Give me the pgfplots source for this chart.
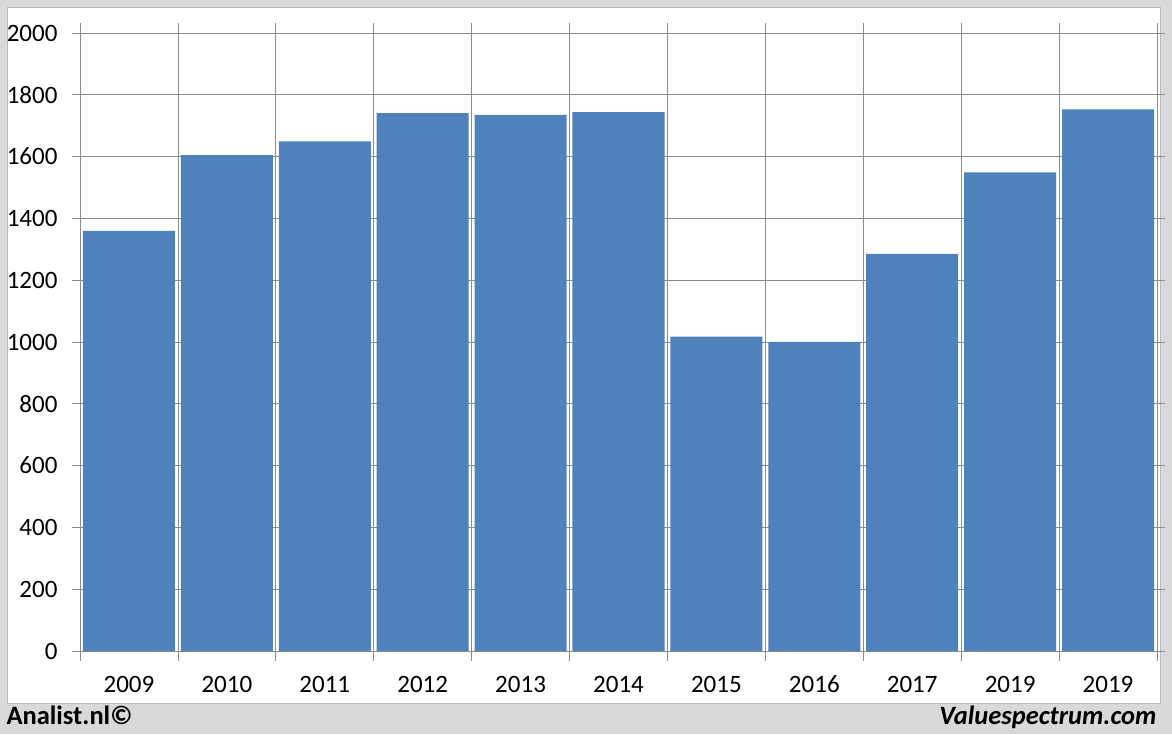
\documentclass[border=0pt]{standalone}
\usepackage{pgfplots}
\pgfplotsset{compat=1.18}
\usepackage{fontspec}
\setmainfont{Carlito}
\definecolor{barblue}{HTML}{4F81BD}
\definecolor{framegray}{HTML}{D9D9D9}
\definecolor{gridgray}{HTML}{8C8C8C}
\begin{document}
\begin{tikzpicture}[x=1pt,y=1pt]
  % outer frame and white panel
  \fill[framegray] (0,0) rectangle (1172,734);
  \fill[white] (7,31) rectangle (1160,727);
  \draw[gridgray!60,line width=0.8pt] (7,31) rectangle (1160,727);
  \begin{axis}[
      at={(80pt,83pt)}, anchor=south west,
      scale only axis,
      width=1077pt, height=618pt,
      xmin=-0.5, xmax=10.5,
      ymin=0, ymax=2000,
      ytick={0,200,...,2000},
      xtick={0,...,10},
      xticklabels={2009,2010,2011,2012,2013,2014,2015,2016,2017,2019,2019},
      minor xtick={-0.5,0.5,...,10.5},
      major x tick style={draw=none},
      minor tick length=10pt,
      major tick length=8pt,
      tick align=outside,
      tick style={gridgray, line width=0.8pt},
      xmajorgrids=false, xminorgrids=true, ymajorgrids=true,
      grid style={gridgray, line width=0.8pt},
      axis line style={gridgray, line width=0.8pt},
      /pgf/number format/assume math mode=true,
      /pgf/number format/1000 sep={},
      ticklabel style={font=\fontsize{25}{30}\selectfont},
      yticklabel style={xshift=-11pt},
      xticklabel style={anchor=base, yshift=-33pt},
    ]
    \addplot[ybar, bar width=0.94, fill=barblue, draw=none] coordinates {
      (0,1360) (1,1605) (2,1649) (3,1741) (4,1735) (5,1744)
      (6,1017) (7,1000) (8,1285) (9,1549) (10,1753)
    };
  \end{axis}
  \node[anchor=base west, font=\fontsize{26.5}{30}\selectfont\bfseries] at (3,10) {Analist.nl©};
  \node[anchor=base east, font=\fontsize{26.5}{30}\selectfont\bfseries\itshape] at (1160,10) {Valuespectrum.com};
\end{tikzpicture}
\end{document}
